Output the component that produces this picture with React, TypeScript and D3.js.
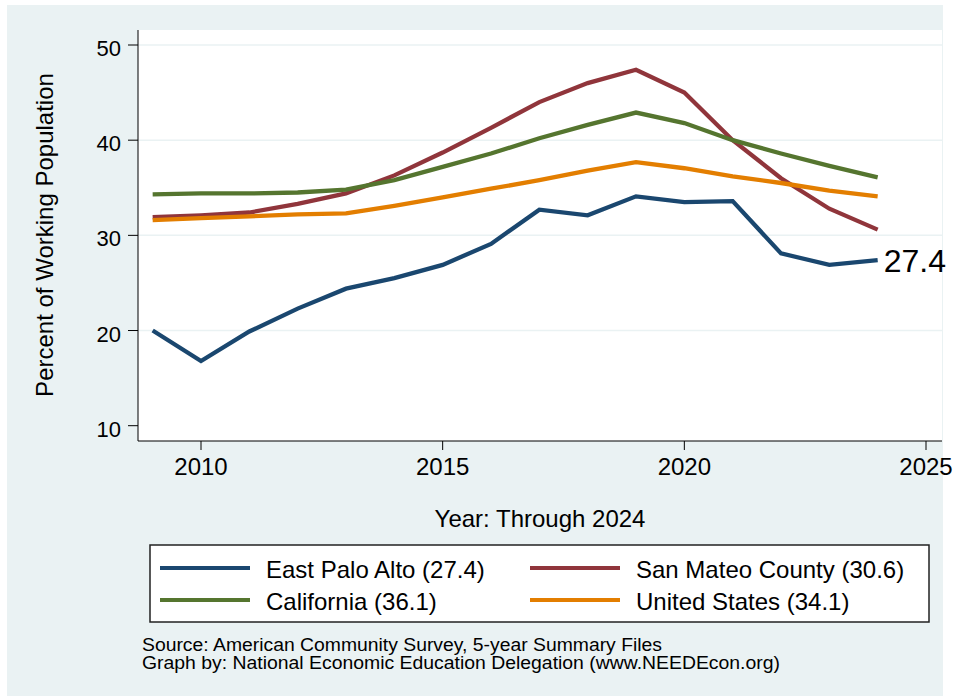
import { useMemo } from "react";
import * as d3 from "d3";

const years = [2009, 2010, 2011, 2012, 2013, 2014, 2015, 2016, 2017, 2018, 2019, 2020, 2021, 2022, 2023, 2024];
const eastPaloAlto = [20.0, 16.8, 19.9, 22.3, 24.4, 25.5, 26.9, 29.1, 32.7, 32.1, 34.1, 33.5, 33.6, 28.1, 26.9, 27.4];
const sanMateo = [31.9, 32.1, 32.4, 33.3, 34.4, 36.3, 38.7, 41.3, 44.0, 46.0, 47.4, 45.0, 40.0, 36.0, 32.8, 30.6];
const california = [34.3, 34.4, 34.4, 34.5, 34.8, 35.8, 37.2, 38.6, 40.2, 41.6, 42.9, 41.8, 40.0, 38.6, 37.3, 36.1];
const unitedStates = [31.6, 31.8, 32.0, 32.2, 32.3, 33.1, 34.0, 34.9, 35.8, 36.8, 37.7, 37.05, 36.2, 35.5, 34.7, 34.1];
const xTicks = [2010, 2015, 2020, 2025];
const yTicks = [10, 20, 30, 40, 50];

const series = [
  { name: "East Palo Alto", values: eastPaloAlto, color: "#1A476F" },
  { name: "San Mateo County", values: sanMateo, color: "#90353B" },
  { name: "California", values: california, color: "#55752F" },
  { name: "United States", values: unitedStates, color: "#E37E00" },
];

const FONT = "'Liberation Sans', Arial, Helvetica, sans-serif";

export default function App() {
  const width = 954;
  const height = 696;

  // plot region
  const left = 138;
  const right = 942;
  const top = 30;
  const bottom = 441;

  const x = useMemo(() => d3.scaleLinear().domain([2010, 2025]).range([201, 926]), []);
  const y = useMemo(() => d3.scaleLinear().domain([10, 50]).range([425.7, 45]), []);

  const line = d3
    .line<number>()
    .x((_, i) => x(years[i]))
    .y((d) => y(d));

  const epaLast = eastPaloAlto[eastPaloAlto.length - 1];

  // legend layout
  const legendCols = [160, 530];
  const legendRows = [568, 600];

  return (
    <svg
      width={width}
      height={height}
      style={{ position: "absolute", left: 0, top: 0, fontFamily: FONT }}
    >
      <rect x={0} y={0} width={width} height={height} fill="#ffffff" />
      <rect x={7} y={5} width={936} height={691} fill="#EAF2F3" />
      <rect x={left} y={top} width={right - left} height={bottom - top} fill="#ffffff" />

      {/* 网格线 */}
      {yTicks
        .filter((t) => t > 10)
        .map((t) => (
          <line
            key={"g" + t}
            x1={left}
            x2={right}
            y1={y(t)}
            y2={y(t)}
            stroke="#EAF2F3"
            strokeWidth={1.5}
          />
        ))}

      {/* 数据线 */}
      {series.map((s) => (
        <path
          key={s.name}
          d={line(s.values) || ""}
          fill="none"
          stroke={s.color}
          strokeWidth={4.3}
          strokeLinejoin="miter"
        />
      ))}

      <text x={x(2024) + 6} y={y(epaLast) + 12} fontSize={32} fill="#000">
        {epaLast.toFixed(1)}
      </text>

      {/* 坐标轴 */}
      <line x1={left} x2={left} y1={top} y2={bottom} stroke="#000" strokeWidth={1} />
      <line x1={left} x2={right} y1={bottom} y2={bottom} stroke="#000" strokeWidth={1} />
      {yTicks.map((t) => (
        <g key={"y" + t}>
          <line x1={left - 10} x2={left} y1={y(t)} y2={y(t)} stroke="#000" strokeWidth={1} />
          <text x={left - 17} y={y(t) + 11} textAnchor="end" fontSize={22} fill="#000">
            {t}
          </text>
        </g>
      ))}
      {xTicks.map((t) => (
        <g key={"x" + t}>
          <line x1={x(t)} x2={x(t)} y1={bottom} y2={bottom + 9} stroke="#000" strokeWidth={1} />
          <text x={x(t)} y={475} textAnchor="middle" fontSize={24} fill="#000">
            {t}
          </text>
        </g>
      ))}

      <text
        transform="translate(53,235) rotate(-90)"
        textAnchor="middle"
        fontSize={24}
        fill="#000"
      >
        Percent of Working Population
      </text>
      <text x={540} y={527} textAnchor="middle" fontSize={24} fill="#000">
        Year: Through 2024
      </text>

      {/* 图例 */}
      <rect x={150} y={545} width={779} height={77} fill="#ffffff" stroke="#222" strokeWidth={1.5} />
      {series.map((s, i) => {
        const cx = legendCols[i % 2];
        const cy = legendRows[Math.floor(i / 2)];
        const last = s.values[s.values.length - 1];
        return (
          <g key={"l" + s.name}>
            <line x1={cx} x2={cx + 90} y1={cy} y2={cy} stroke={s.color} strokeWidth={3.8} />
            <text x={cx + 106} y={cy + 10} fontSize={24} fill="#000">
              {`${s.name} (${last.toFixed(1)})`}
            </text>
          </g>
        );
      })}

      <text x={142} y={651} fontSize={17.5} fill="#000" textLength={520} lengthAdjust="spacingAndGlyphs">
        Source: American Community Survey, 5-year Summary Files
      </text>
      <text x={142} y={669} fontSize={17.5} fill="#000" textLength={638} lengthAdjust="spacingAndGlyphs">
        Graph by: National Economic Education Delegation (www.NEEDEcon.org)
      </text>
    </svg>
  );
}
